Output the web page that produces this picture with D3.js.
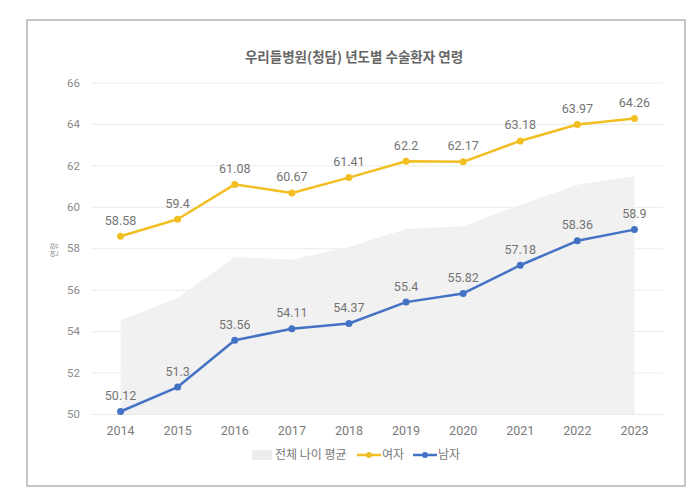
<!DOCTYPE html>
<html><head><meta charset="utf-8">
<script src="https://cdn.jsdelivr.net/npm/d3@7"></script>
<style>
html,body{margin:0;padding:0;background:#fff;}
svg{display:block;}
</style></head>
<body>
<svg id="chart" width="700" height="503"></svg>
<script>
const years = ["2014","2015","2016","2017","2018","2019","2020","2021","2022","2023"];
const overall = [54.53, 55.6, 57.58, 57.45, 58.06, 58.93, 59.06, 60.09, 61.07, 61.48];
const female = [58.58, 59.4, 61.08, 60.67, 61.41, 62.2, 62.17, 63.18, 63.97, 64.26];
const male = [50.12, 51.3, 53.56, 54.11, 54.37, 55.4, 55.82, 57.18, 58.36, 58.9];
const yTicks = [50, 52, 54, 56, 58, 60, 62, 64, 66];
const title = "우리들병원(청담) 년도별 수술환자 연령";
const yTitle = "연령";
const legendLabels = ["전체 나이 평균", "여자", "남자"];

const FONT = "Roboto, 'Noto Sans CJK KR', sans-serif";
const KFONT = "'Noto Sans CJK KR', Roboto, sans-serif";
const YEL = "#F2BE22", BLU = "#4472C4", AREA = "#F1F1F1";

const svg = d3.select("#chart");
svg.append("rect").attr("x",27).attr("y",20).attr("width",658).attr("height",466)
  .attr("fill","#fff").attr("stroke","#a8a8a8").attr("stroke-width",1.3);

const x = d3.scaleBand().domain(years).range([92, 663]).padding(0);
const cx = d => x(d) + x.bandwidth()/2;
const y = d3.scaleLinear().domain([50, 66]).range([414, 82.5]);

// gridlines
const yAxis = d3.axisLeft(y).tickValues(yTicks).tickSize(-(663-92)).tickPadding(12).tickFormat(d3.format("d"));
const gy = svg.append("g").attr("transform","translate(92,0)").call(yAxis);
gy.select(".domain").remove();
gy.selectAll(".tick line").attr("stroke","#ebebeb").attr("stroke-width",1);
gy.selectAll(".tick text").attr("fill","#8a8a8a").style("font-family",FONT).style("font-size","11.5px");

// area
const area = d3.area().x((d,i)=>cx(years[i])).y0(y(50)).y1(d=>y(d));
svg.append("path").datum(overall).attr("d",area).attr("fill",AREA);

// x axis
const xAxis = d3.axisBottom(x).tickSize(0).tickPadding(12);
const gx = svg.append("g").attr("transform","translate(0,414)").call(xAxis);
gx.select(".domain").remove();
gx.selectAll(".tick text").attr("fill","#7a7a7a").style("font-family",FONT).style("font-size","12.5px");

function series(vals, color){
  const line = d3.line().x((d,i)=>cx(years[i])).y(d=>y(d));
  svg.append("path").datum(vals).attr("d",line).attr("fill","none")
    .attr("stroke",color).attr("stroke-width",2.5).attr("stroke-linejoin","round");
  svg.selectAll(null).data(vals).enter().append("circle")
    .attr("cx",(d,i)=>cx(years[i])).attr("cy",d=>y(d)).attr("r",3.5).attr("fill",color);
  svg.selectAll(null).data(vals).enter().append("text")
    .attr("x",(d,i)=>cx(years[i])).attr("y",d=>y(d)-11.5)
    .attr("text-anchor","middle").attr("fill","#747474")
    .style("font-family",FONT).style("font-size","12.5px")
    .text(d=>String(d));
}
series(female, YEL);
series(male, BLU);

// title
svg.append("text").attr("x",354).attr("y",62).attr("text-anchor","middle")
  .attr("fill","#666").style("font-family",KFONT).style("font-size","13.5px").style("font-weight","bold")
  .text(title);

// y title
svg.append("text").attr("transform","translate(57,250) rotate(-90)").attr("text-anchor","middle")
  .attr("fill","#888").style("font-family",KFONT).style("font-size","8px").text(yTitle);

// legend
const ly = 455;
const lg = svg.append("g").style("font-family",KFONT).style("font-size","12px");
lg.append("rect").attr("x",252).attr("y",ly-5).attr("width",20).attr("height",10).attr("fill","#EDEDED");
lg.append("text").attr("x",275).attr("y",ly+4).attr("fill","#777").text(legendLabels[0]);
[[357,YEL,legendLabels[1]],[413,BLU,legendLabels[2]]].forEach(([lx,c,t])=>{
  lg.append("line").attr("x1",lx).attr("x2",lx+24).attr("y1",ly).attr("y2",ly).attr("stroke",c).attr("stroke-width",2.5);
  lg.append("circle").attr("cx",lx+12).attr("cy",ly).attr("r",3).attr("fill",c);
  lg.append("text").attr("x",lx+25).attr("y",ly+4).attr("fill","#777").text(t);
});
</script>
</body></html>
